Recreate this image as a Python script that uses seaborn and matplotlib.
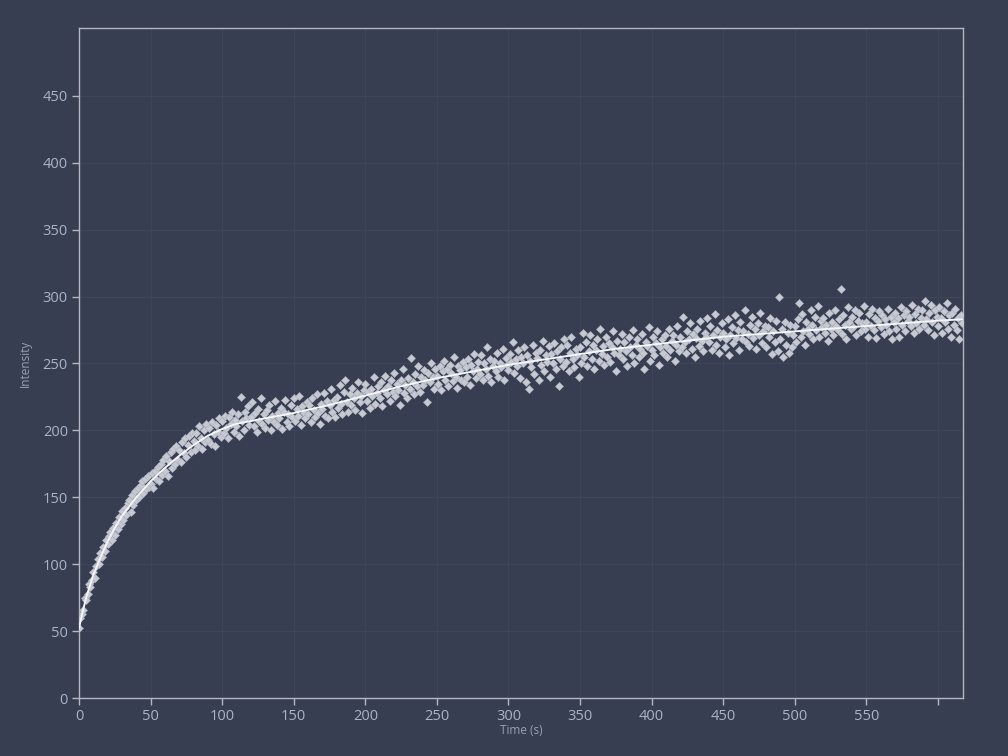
import numpy as np
import pandas as pd
import matplotlib
matplotlib.use("Agg")
import matplotlib.pyplot as plt
import seaborn as sns

# Intensity readings, one per second (t = 0 .. 617 s)
intensity = [
    52, 60, 63, 66, 75, 73, 78, 85, 83, 88,
    94, 90, 99, 104, 100, 108, 105, 113, 110, 118,
    115, 121, 124, 118, 127, 122, 131, 126, 135, 130,
    140, 133, 142, 137, 146, 148, 139, 152, 144, 155,
    148, 157, 150, 159, 162, 153, 164, 156, 166, 158,
    160, 168, 157, 170, 164, 173, 162, 175, 167, 178,
    170, 181, 166, 177, 184, 172, 186, 175, 188, 178,
    185, 176, 191, 183, 194, 180, 189, 196, 184, 198,
    192, 185, 198, 188, 203, 194, 186, 200, 191, 205,
    193, 202, 190, 206, 197, 188, 204, 199, 209, 195,
    207, 198, 211, 202, 194, 210, 205, 214, 199, 208,
    203, 212, 196, 225, 207, 200, 214, 209, 218, 204,
    210, 221, 203, 213, 199, 216, 207, 224, 205, 212,
    202, 215, 208, 219, 200, 211, 206, 222, 204, 213,
    209, 217, 201, 214, 223, 206, 212, 203, 219, 210,
    224, 207, 216, 211, 226, 204, 218, 213, 209, 221,
    212, 219, 206, 224, 215, 210, 227, 213, 205, 220,
    216, 228, 211, 222, 209, 219, 231, 214, 223, 210,
    225, 217, 234, 220, 212, 229, 238, 221, 214, 227,
    219, 232, 224, 215, 228, 236, 221, 226, 213, 230,
    235, 222, 229, 217, 231, 226, 240, 220, 228, 233,
    224, 236, 218, 230, 241, 227, 233, 222, 238, 229,
    243, 226, 235, 230, 219, 238, 246, 228, 234, 224,
    239, 231, 254, 236, 227, 242, 233, 248, 229, 240,
    234, 245, 238, 221, 243, 236, 250, 240, 231, 246,
    241, 235, 248, 230, 244, 252, 238, 246, 233, 249,
    243, 237, 255, 240, 232, 248, 245, 238, 251, 236,
    247, 240, 253, 234, 249, 244, 257, 239, 246, 251,
    242, 256, 238, 250, 246, 262, 241, 253, 236, 248,
    252, 244, 258, 240, 250, 247, 261, 238, 254, 249,
    245, 257, 251, 266, 243, 253, 248, 260, 239, 255,
    250, 262, 236, 256, 231, 252, 247, 264, 242, 258,
    254, 238, 260, 249, 267, 244, 256, 251, 263, 240,
    257, 250, 265, 246, 259, 233, 253, 262, 248, 268,
    251, 264, 244, 258, 270, 253, 247, 261, 256, 240,
    262, 250, 273, 255, 266, 248, 259, 271, 253, 264,
    246, 260, 268, 252, 276, 257, 263, 249, 270, 255,
    265, 251, 262, 274, 258, 244, 267, 256, 261, 272,
    253, 266, 259, 248, 270, 262, 256, 275, 250, 264,
    268, 255, 261, 272, 258, 246, 266, 263, 277, 252,
    260, 270, 256, 265, 274, 249, 262, 268, 258, 271,
    263, 255, 276, 260, 267, 271, 252, 264, 278, 259,
    270, 262, 285, 266, 258, 274, 268, 280, 261, 272,
    255, 269, 276, 263, 282, 267, 259, 273, 270, 284,
    266, 278, 260, 271, 287, 264, 275, 258, 270, 280,
    273, 262, 268, 283, 256, 271, 277, 265, 286, 269,
    275, 260, 281, 268, 274, 290, 266, 272, 263, 279,
    285, 269, 276, 261, 280, 271, 288, 265, 274, 278,
    262, 277, 270, 284, 257, 274, 266, 282, 259, 300,
    268, 276, 255, 281, 264, 273, 258, 279, 262, 271,
    278, 266, 283, 295, 270, 287, 274, 264, 281, 276,
    272, 290, 279, 268, 285, 275, 293, 270, 282, 277,
    284, 273, 279, 267, 288, 276, 281, 271, 290, 278,
    275, 283, 306, 272, 286, 279, 268, 292, 281, 276,
    285, 277, 290, 271, 282, 288, 274, 280, 293, 276,
    281, 270, 287, 278, 291, 275, 284, 269, 282, 289,
    277, 286, 272, 283, 279, 291, 274, 285, 268, 281,
    288, 276, 284, 270, 292, 279, 286, 274, 289, 282,
    285, 278, 294, 273, 287, 280, 291, 276, 284, 290,
    279, 297, 283, 275, 288, 294, 281, 271, 290, 285,
    278, 292, 284, 273, 289, 281, 295, 276, 286, 270,
    288, 279, 291, 275, 284, 268, 286, 280,
]
time_s = list(range(len(intensity)))

# Fitted recovery curve, read at selected times
fit_time = [0, 2, 5, 10, 15, 20, 25, 30, 40, 50, 60, 70, 80, 90, 100, 110, 125,
            150, 175, 200, 225, 250, 275, 300, 325, 350, 375, 400, 425, 450,
            475, 500, 525, 550, 575, 600, 617]
fit_value = [52, 62, 75, 92, 105, 117, 127, 136, 150, 162, 172, 181, 189, 196,
             201, 205, 208, 213, 219, 226, 233, 239, 244, 249, 253, 257, 261,
             264, 267, 270, 272, 274, 276, 278, 280, 282, 283]

x_ticks = [0, 50, 100, 150, 200, 250, 300, 350, 400, 450, 500, 550, 600]
x_tick_labels = ["0", "50", "100", "150", "200", "250", "300", "350", "400",
                 "450", "500", "550", ""]
y_ticks = [0, 50, 100, 150, 200, 250, 300, 350, 400, 450]

bg = "#373e51"
sns.set_theme(style="dark")
plt.rcParams["font.family"] = ["Open Sans", "DejaVu Sans"]

fig = plt.figure(figsize=(10.08, 7.56), dpi=100, facecolor=bg)
ax = fig.add_axes([79 / 1008, 1 - 698 / 756, (963 - 79) / 1008, (698 - 28) / 756])
ax.set_facecolor(bg)

df = pd.DataFrame({"Time (s)": time_s, "Intensity": intensity})
fit_df = pd.DataFrame({"Time (s)": fit_time, "Intensity": fit_value})

sns.scatterplot(data=df, x="Time (s)", y="Intensity", ax=ax, marker="D", s=17,
                color="#c6c9d2", edgecolor="#a9aebb", linewidth=0.4, zorder=3)
sns.lineplot(data=fit_df, x="Time (s)", y="Intensity", ax=ax, color="#f4f5f8",
             linewidth=1.4, zorder=4)

ax.set_xlim(0, 617.5)
ax.set_ylim(0, 500.7)
ax.set_xticks(x_ticks)
ax.set_xticklabels(x_tick_labels)
ax.set_yticks(y_ticks)

ax.grid(True, color="#3e4558", linewidth=0.8)
for s in ax.spines.values():
    s.set_color("#b3b8c4")
    s.set_linewidth(1.0)
    s.set_visible(True)

ax.tick_params(axis="both", colors="#b3b8c4", length=5, width=1.0, direction="out",
               labelcolor="#aab3c7", labelsize=10.5, pad=3, bottom=True, left=True)
ax.set_xlabel("Time (s)", color="#98a1b5", fontsize=8.5, labelpad=0)
ax.set_ylabel("Intensity", color="#98a1b5", fontsize=8.5, labelpad=8)

fig.savefig("out.png", dpi=100, facecolor=bg)
